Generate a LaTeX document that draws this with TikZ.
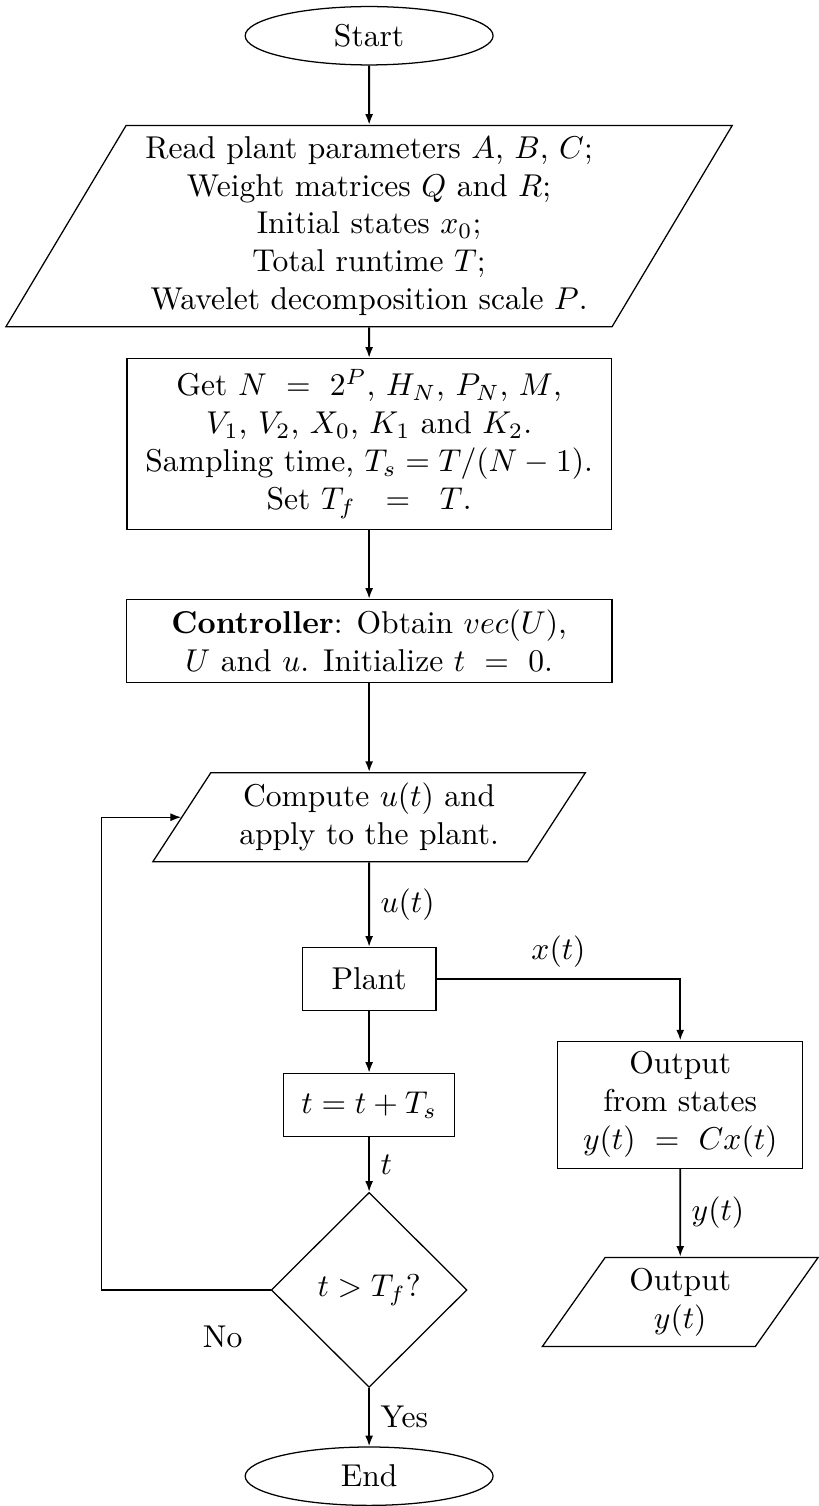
\documentclass[tikz,border=0pt]{standalone}
\usepackage{amsmath, amssymb}
\usetikzlibrary{positioning, arrows.meta, shapes.geometric, calc}

\begin{document}
\begin{tikzpicture}[node distance=0.8cm,
    terminal/.style={draw, ellipse, inner sep=1pt, minimum width=2.76cm, minimum height=0.65cm},
    io/.style={draw, trapezium, trapezium left angle=60, trapezium right angle=120, trapezium stretches=true, align=center},
    process/.style={draw, rectangle, align=center},
    decision/.style={draw, diamond, aspect=1, inner sep=1pt, minimum width=2.18cm, minimum height=2.17cm},
    flow/.style={-{Latex[length=1.2mm,width=0.9mm]}, semithick},
    loopback/.style={-{Latex[length=1.2mm,width=0.9mm]}}]

  % main column
  \node[terminal] (start) {Start};
  \node[io, minimum width=8.1cm, minimum height=2.24cm, below=0.66cm of start] (read) {Read plant parameters $A$, $B$, $C$;\\ Weight matrices $Q$ and $R$;\\ Initial states $x_0$;\\ Total runtime $T$;\\ Wavelet decomposition scale $P$.};
  \node[process, minimum width=5.39cm, minimum height=1.9cm, below=0.34cm of read] (init) {Get $N\ =\ 2^P$, $H_N$, $P_N$, $M$,\\ $V_1$, $V_2$, $X_0$, $K_1$ and $K_2$.\\ Sampling time, $T_s = T/(N-1)$.\\ Set $T_f\ \ =\ \ T$.};
  \node[process, minimum width=5.41cm, below=0.77cm of init] (ctrl) {\textbf{Controller}: Obtain $vec(U)$,\\ $U$ and $u$. Initialize $t\ =\ 0$.};
  \node[io, minimum width=4.82cm, minimum height=0.98cm, below=0.99cm of ctrl] (compute) {Compute $u(t)$ and\\ apply to the plant.};
  \node[process, minimum width=1.49cm, minimum height=0.7cm, below=0.94cm of compute] (plant) {Plant};
  \node[process, minimum width=1.9cm, minimum height=0.7cm, below=0.69cm of plant] (update) {$t = t + T_s$};
  \node[decision, below=0.61cm of update] (test) {$t > T_f$?};
  \node[terminal, below=0.65cm of test] (stop) {End};

  % output branch
  \node[process, minimum width=2.73cm, minimum height=1.41cm, below right=0.33cm and 1.34cm of plant] (states) {Output\\ from states\\ $y(t)\ =\ Cx(t)$};
  \node[io, minimum width=3.09cm, minimum height=0.99cm, below=0.98cm of states] (out) {Output\\ $y(t)$};

  \coordinate[left=1.88cm of test.west] (loop);

  \draw[flow] (start) -- (read);
  \draw[flow] (read) -- (init);
  \draw[flow] (init) -- (ctrl);
  \draw[flow] (ctrl) -- (compute);
  \draw[flow] (compute) -- node[right] {$u(t)$} (plant);
  \draw[flow] (plant) -- (update);
  \draw[flow] (update) -- node[right] {$t$} (test);
  \draw[flow] (test) -- node[right] {Yes} (stop);
  \draw[flow] (plant.east) -| node[pos=0.25, above] {$x(t)$} (states.north);
  \draw[flow] (states) -- node[right] {$y(t)$} (out);
  \draw[loopback] (test.west) -- (loop) |- (compute.left side);
  \node[below left=0.28cm and 0.19cm of test.west] (no) {No};

  \useasboundingbox ($(start.center)+(-4.11,0.398)$) rectangle ($(start.center)+(4.885,-16.245)$);
\end{tikzpicture}
\end{document}
